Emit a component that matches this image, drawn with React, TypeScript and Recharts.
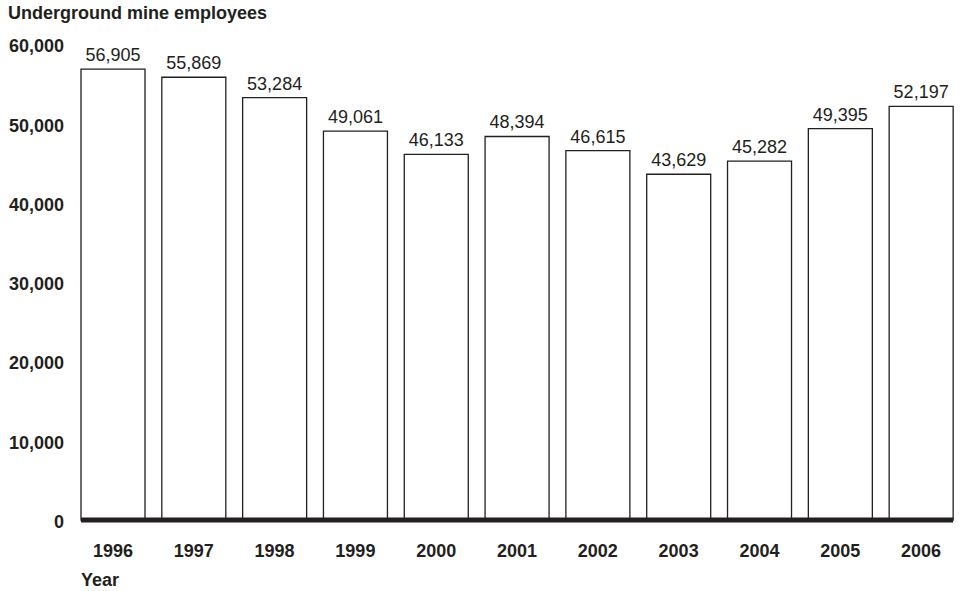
import React from "react";
import {
  BarChart,
  Bar,
  XAxis,
  YAxis,
  LabelList,
} from "recharts";

const years = ["1996", "1997", "1998", "1999", "2000", "2001", "2002", "2003", "2004", "2005", "2006"];
const employees = [56905, 55869, 53284, 49061, 46133, 48394, 46615, 43629, 45282, 49395, 52197];
const yTicks = [0, 10000, 20000, 30000, 40000, 50000, 60000];

const INK = "#231f20";
const FONT = "'Liberation Sans', Arial, Helvetica, sans-serif";

// the baseline only runs from the first bar's left edge to the last bar's right edge,
// so the plot area is made that wide and the band scale is pushed out by the outer gap
const GAP = 0.105;
const PLOT_W = 872;
const n = years.length;
const outer = (PLOT_W * GAP) / n / (1 - (2 * GAP) / n);

const fmt = (v: number) => v.toLocaleString("en-US");

const data = years.map((year, i) => ({ year, value: employees[i] }));

export default function App() {
  return (
    <div style={{ position: "absolute", left: 0, top: 0, width: 962, height: 591, background: "#fff", fontFamily: FONT, color: INK }}>
      <div style={{ position: "absolute", left: 8, top: 3, fontSize: 18, fontWeight: "bold" }}>
        Underground mine employees
      </div>
      <div style={{ position: "absolute", left: 81, top: 570, fontSize: 18, fontWeight: "bold" }}>
        Year
      </div>
      <BarChart
        width={962}
        height={591}
        data={data}
        margin={{ top: 44.5, right: 962 - 81 - PLOT_W, bottom: 0, left: 0 }}
        barCategoryGap={`${GAP * 100}%`}
      >
        <XAxis
          dataKey="year"
          height={71}
          padding={{ left: -outer, right: -outer }}
          axisLine={{ stroke: INK, strokeWidth: 5 }}
          tickLine={false}
          tickMargin={18}
          tick={{ fontSize: 18, fontWeight: "bold", fill: INK, fontFamily: FONT }}
        />
        <YAxis
          width={81}
          domain={[0, 60000]}
          ticks={yTicks}
          tickFormatter={fmt}
          axisLine={false}
          tickLine={false}
          tickMargin={11}
          interval={0}
          tick={{ fontSize: 18, fontWeight: "bold", fill: INK, fontFamily: FONT, dy: 1.5 }}
        />
        <Bar dataKey="value" fill="#fff" stroke={INK} strokeWidth={1.3} isAnimationActive={false}>
          <LabelList
            dataKey="value"
            position="top"
            offset={8}
            formatter={(v: number) => fmt(v)}
            style={{ fontSize: 18, fill: INK, fontFamily: FONT }}
          />
        </Bar>
      </BarChart>
    </div>
  );
}
